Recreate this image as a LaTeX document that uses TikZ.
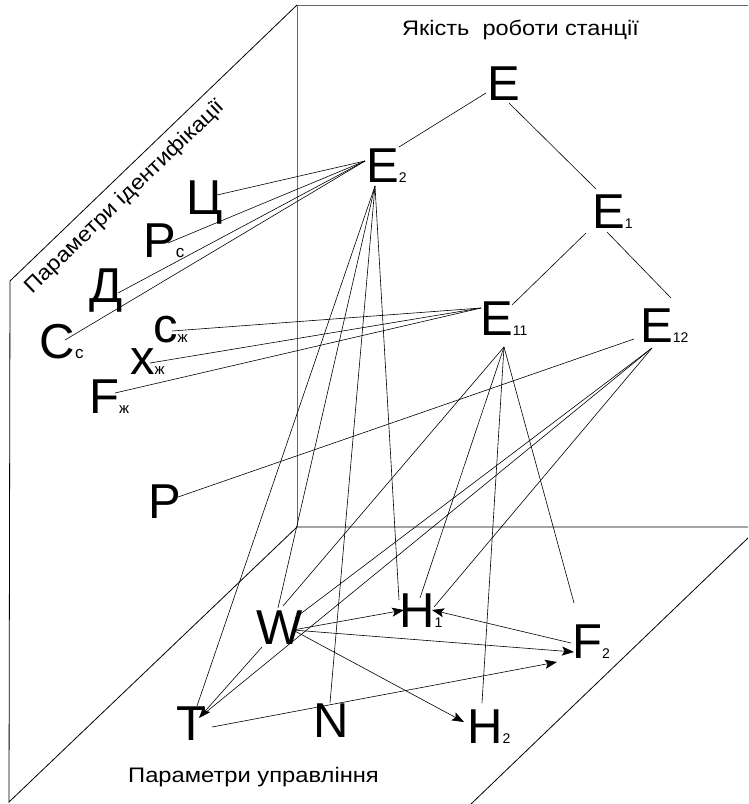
\documentclass[tikz,border=0pt]{standalone}
\usepackage{fontspec}
\setmainfont{Liberation Sans}
\usetikzlibrary{arrows.meta}
\newcommand\sbd[1]{{\fontsize{14}{14}\selectfont #1}}
\newcommand\sbl[1]{{\fontsize{17}{17}\selectfont #1}}
\newcommand\sbz[1]{{\fontsize{15}{15}\selectfont #1}}
\begin{document}
\begin{tikzpicture}[x=1pt,y=-1pt,
  lbl/.style={font=\fontsize{49}{49}\selectfont, inner sep=0pt, anchor=base west},
  captxt/.style={font=\fontsize{21}{21}\selectfont, inner sep=0pt},
  plane/.style={line width=0.8pt},
  bplane/.style={line width=1pt, black!60},
  con/.style={line width=0.6pt},
  arr/.style={con, -{Stealth[length=12pt,width=9pt,inset=2.5pt]}}]
\useasboundingbox (0,0) rectangle (748,804);
% planes
\draw[bplane] (297,527) -- (297,5) -- (748,5);
\draw[plane] (297,5) -- (10,281) -- (9,802) -- (297,527) -- (748,527);
\draw[plane] (748,538) -- (471,804);
% captions
\node[captxt, anchor=base west] (q) at (402,35) {\scalebox{1.12}[1]{Якість\ \ роботи станції}};
\node[captxt, anchor=base west] (u) at (128,782) {\scalebox{1.13}[1]{Параметри управління}};
\node[captxt, anchor=base, rotate=44] (id) at (129,201) {\scalebox{1.11}[1]{Параметри ідентифікації}};
% letters
\node[lbl] (E) at (487,100) {E};
\node[lbl] (E2) at (366,182) {E\sbd{2}};
\node[lbl] (E1) at (592,228) {E\sbd{1}};
\node[lbl] (E11) at (480,335) {E\sbd{11}};
\node[lbl] (E12) at (640,342) {E\sbd{12}};
\node[lbl] (Ts) at (186,214) {Ц};
\node[lbl] (Pc) at (143,257) {P\sbl{c}};
\node[lbl] (D) at (89,302) {Д};
\node[lbl] (Cc) at (39.5,358) {C\sbl{c}};
\node[lbl] (cz) at (153,342) {c\sbz{ж}};
\node[lbl] (xz) at (130,374) {x\sbz{ж}};
\node[lbl] (Fz) at (89,413) {F\sbz{ж}};
\node[lbl] (P) at (148,518) {P};
\node[lbl] (W) at (256,644) {W};
\node[lbl] (T) at (176,740) {T};
\node[lbl] (N) at (313,737) {N};
\node[lbl] (H1) at (399,627) {H\sbd{1}};
\node[lbl] (F2) at (572,658) {F\sbd{2}};
\node[lbl] (H2) at (467,743) {H\sbd{2}};
% tree
\draw[con] ([shift={(-1,-7)}]E.base west) -- ([shift={(33,-35)}]E2.base west);
\draw[con] ([shift={(22,3)}]E.base west) -- ([shift={(4,-39)}]E1.base west);
\draw[con] ([shift={(-6,5)}]E1.base west) -- ([shift={(32,-30)}]E11.base west);
\draw[con] ([shift={(15,4)}]E1.base west) -- ([shift={(31,-44)}]E12.base west);
% E2 left
\draw[con] ([shift={(-1,-21)}]E2.base west) -- ([shift={(31,-19)}]Ts.base west);
\draw[con] ([shift={(-1,-21)}]E2.base west) -- ([shift={(25,-14)}]Pc.base west);
\draw[con] ([shift={(-1,-21)}]E2.base west) -- ([shift={(29,-9)}]D.base west);
\draw[con] ([shift={(-1,-21)}]E2.base west) -- ([shift={(25.5,-18)}]Cc.base west);
% E2 down
\draw[con] ([shift={(9,4)}]E2.base west) -- ([shift={(21,-34)}]T.base west);
\draw[con] ([shift={(9,4)}]E2.base west) -- ([shift={(22,-36)}]W.base west);
\draw[con] ([shift={(9,4)}]E2.base west) -- ([shift={(17,-34)}]N.base west);
\draw[con] ([shift={(9,4)}]E2.base west) -- ([shift={(0,-27)}]H1.base west);
% E11 left
\draw[con] ([shift={(1,-27)}]E11.base west) -- ([shift={(19,-11)}]cz.base west);
\draw[con] ([shift={(1,-27)}]E11.base west) -- ([shift={(20,-11)}]xz.base west);
\draw[con] ([shift={(1,-27)}]E11.base west) -- ([shift={(26,-20)}]Fz.base west);
% E11 down
\draw[con] ([shift={(24,12)}]E11.base west) -- ([shift={(27,-38)}]W.base west);
\draw[con] ([shift={(24,12)}]E11.base west) -- ([shift={(21,-29)}]H1.base west);
\draw[con] ([shift={(24,12)}]E11.base west) -- ([shift={(15,-40)}]H2.base west);
\draw[con] ([shift={(24,12)}]E11.base west) -- ([shift={(2,-55)}]F2.base west);
% E12
\draw[con] ([shift={(-6,-3)}]E12.base west) -- ([shift={(30,-21)}]P.base west);
\draw[con] ([shift={(12,6)}]E12.base west) -- ([shift={(39,-26)}]W.base west);
\draw[con] ([shift={(12,6)}]E12.base west) -- ([shift={(29,-27)}]T.base west);
\draw[con] ([shift={(12,6)}]E12.base west) -- ([shift={(35,-20)}]H1.base west);
% control arrows
\draw[arr] ([shift={(6,3)}]W.base west) -- ([shift={(23,-22)}]T.base west);
\draw[arr] ([shift={(37,-14)}]W.base west) -- ([shift={(5,-17)}]H1.base west);
\draw[arr] ([shift={(37,-14)}]W.base west) -- ([shift={(2,-6)}]F2.base west);
\draw[arr] ([shift={(37,-14)}]W.base west) -- ([shift={(-3,-21)}]H2.base west);
\draw[arr] ([shift={(36,-13)}]T.base west) -- ([shift={(-15,4)}]F2.base west);
\draw[arr] ([shift={(-1,-15)}]F2.base west) -- ([shift={(33,-17)}]H1.base west);
\end{tikzpicture}
\end{document}
